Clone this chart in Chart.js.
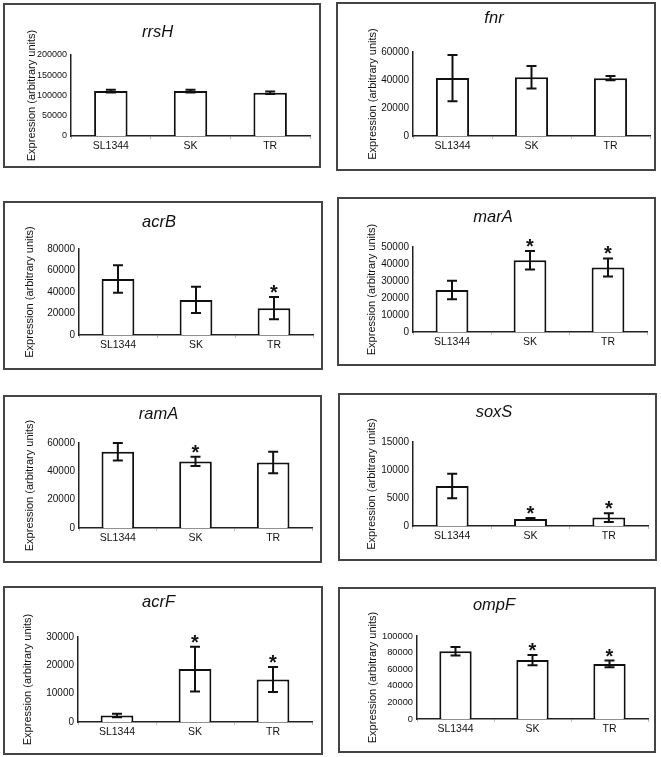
<!DOCTYPE html>
<html>
<head>
<meta charset="utf-8">
<script src="https://cdn.jsdelivr.net/npm/chart.js@4"></script>
<style>
  body { margin: 0; background: #fff; }
  #wrap { position: relative; width: 661px; height: 757px; }
  .panel { position: absolute; border: 2px solid #444; box-sizing: border-box; }
  .panel canvas { position: absolute; left: 0; top: 0; }
</style>
</head>
<body>
<div id="wrap"></div>
<script>
var strains = ["SL1344", "SK", "TR"];
var genes = ["rrsH", "fnr", "acrB", "marA", "ramA", "soxS", "acrF", "ompF"];

// mean expression, error and significance (1 = asterisk) per gene
var rrsH = [111000, 111000, 107000];
var rrsHErr = [3500, 3500, 3000];
var rrsHSig = [0, 0, 0];
var fnr = [41400, 42000, 41300];
var fnrErr = [16500, 8000, 1500];
var fnrSig = [0, 0, 0];
var acrB = [52000, 32600, 25000];
var acrBErr = [12800, 12200, 10300];
var acrBSig = [0, 0, 1];
var marA = [24700, 42200, 38000];
var marAErr = [5400, 5400, 5300];
var marASig = [0, 1, 1];
var ramA = [53800, 47000, 46200];
var ramAErr = [6200, 3300, 7600];
var ramASig = [0, 1, 0];
var soxS = [7150, 1250, 1500];
var soxSErr = [2200, 200, 770];
var soxSSig = [0, 1, 1];
var acrF = [2300, 18700, 15000];
var acrFErr = [600, 7900, 4400];
var acrFSig = [0, 1, 1];
var ompF = [81600, 71000, 66400];
var ompFErr = [5200, 6200, 4000];
var ompFSig = [0, 1, 1];

// y axis ranges
var axisMax = [200000, 60000, 80000, 50000, 60000, 15000, 30000, 100000];
var axisStep = [50000, 20000, 20000, 10000, 20000, 5000, 10000, 20000];

var values = [rrsH, fnr, acrB, marA, ramA, soxS, acrF, ompF];
var errors = [rrsHErr, fnrErr, acrBErr, marAErr, ramAErr, soxSErr, acrFErr, ompFErr];
var stars = [rrsHSig, fnrSig, acrBSig, marASig, ramASig, soxSSig, acrFSig, ompFSig];

// page layout: box [l,t,r,b], plot area [l,t,r,b], title centre y, axis title centre x
var panels = [
  { box: [4, 4, 320, 167], plot: [71, 55, 310, 136], titleY: 32, labelX: 32, tick: 9 },
  { box: [337, 3, 655, 170], plot: [413, 52, 650, 136], titleY: 18, labelX: 373, tick: 10 },
  { box: [4, 202, 322, 369], plot: [79, 249, 313, 335], titleY: 222, labelX: 30, tick: 10 },
  { box: [338, 198, 655, 365], plot: [413, 247, 647, 332], titleY: 217, labelX: 372, tick: 10 },
  { box: [4, 396, 321, 562], plot: [79, 443, 312, 528], titleY: 414, labelX: 30, tick: 10 },
  { box: [339, 394, 656, 560], plot: [413, 442, 648, 526], titleY: 412, labelX: 372, tick: 10 },
  { box: [4, 587, 322, 754], plot: [78, 637, 312, 722], titleY: 602, labelX: 28, tick: 10 },
  { box: [339, 588, 655, 752], plot: [417, 636, 648, 719], titleY: 605, labelX: 373, tick: 9.3 }
];

var FONT = "'Liberation Sans', Arial, sans-serif";
var titleSize = 16.5, titleLH = 20;
var axisTitleSize = 11, axisTitleLH = 13;

var errorBars = {
  id: "errorBars",
  afterDatasetsDraw: function (chart) {
    var ctx = chart.ctx;
    var ds = chart.data.datasets[0];
    var meta = chart.getDatasetMeta(0);
    var y = chart.scales.y;
    ctx.save();
    ctx.strokeStyle = "#111";
    ctx.fillStyle = "#111";
    ctx.lineWidth = 2;
    meta.data.forEach(function (bar, i) {
      var v = ds.data[i], e = ds.errors[i];
      var top = y.getPixelForValue(v + e);
      var bot = y.getPixelForValue(v - e);
      var x = bar.x;
      ctx.beginPath();
      ctx.moveTo(x, top); ctx.lineTo(x, bot);
      ctx.moveTo(x - 5, top); ctx.lineTo(x + 5, top);
      ctx.moveTo(x - 5, bot); ctx.lineTo(x + 5, bot);
      ctx.stroke();
      if (ds.stars[i]) {
        ctx.font = "bold 20px " + FONT;
        ctx.textAlign = "center";
        ctx.textBaseline = "alphabetic";
        ctx.fillText("*", x, top + 2);
      }
    });
    ctx.restore();
  }
};

var wrap = document.getElementById("wrap");

panels.forEach(function (p, k) {
  var div = document.createElement("div");
  div.className = "panel";
  div.style.left = (p.box[0] - 1) + "px";
  div.style.top = (p.box[1] - 1) + "px";
  div.style.width = (p.box[2] - p.box[0] + 2) + "px";
  div.style.height = (p.box[3] - p.box[1] + 2) + "px";
  var cv = document.createElement("canvas");
  var ox = p.box[0] + 1, oy = p.box[1] + 1;
  var w = p.box[2] - p.box[0] - 2, h = p.box[3] - p.box[1] - 2;
  cv.width = w; cv.height = h;
  cv.style.width = w + "px"; cv.style.height = h + "px";
  div.appendChild(cv);
  wrap.appendChild(div);

  var yWidth = p.plot[0] - ox;
  var xHeight = h - (p.plot[3] - oy);
  var titleTop = p.titleY - oy - titleLH / 2;
  var titleBottom = (p.plot[1] - oy) - titleTop - titleLH;

  new Chart(cv, {
    type: "bar",
    data: {
      labels: strains,
      datasets: [{
        data: values[k],
        errors: errors[k],
        stars: stars[k],
        backgroundColor: "#fff",
        borderColor: "#111",
        borderWidth: 2,
        barPercentage: 0.42,
        categoryPercentage: 1
      }]
    },
    options: {
      responsive: false,
      devicePixelRatio: 1,
      animation: false,
      layout: { padding: { left: 0, top: 0, bottom: 0, right: w - (p.plot[2] - ox) } },
      plugins: {
        legend: { display: false },
        tooltip: { enabled: false },
        title: {
          display: true,
          text: genes[k],
          color: "#111",
          font: { family: FONT, size: titleSize, style: "italic", weight: "normal", lineHeight: titleLH / titleSize },
          padding: { top: titleTop, bottom: titleBottom }
        }
      },
      scales: {
        x: {
          grid: { display: true, drawOnChartArea: false, drawTicks: true, tickLength: 3, color: "#bbb" },
          border: { display: true, color: "#222", width: 1.5 },
          ticks: { color: "#111", padding: 1, font: { family: FONT, size: 10.5 } },
          afterFit: function (s) { s.height = xHeight; }
        },
        y: {
          min: 0,
          max: axisMax[k],
          grid: { display: false, drawTicks: false },
          border: { display: true, color: "#222", width: 1.5 },
          ticks: {
            stepSize: axisStep[k],
            color: "#111",
            padding: 4,
            font: { family: FONT, size: p.tick },
            callback: function (v) { return String(v); }
          },
          title: {
            display: true,
            text: "Expression (arbitrary units)",
            color: "#111",
            font: { family: FONT, size: axisTitleSize, lineHeight: axisTitleLH / axisTitleSize },
            padding: { top: p.labelX - ox - axisTitleLH / 2, bottom: 0 }
          },
          afterFit: function (s) { s.width = yWidth; }
        }
      }
    },
    plugins: [errorBars]
  });
});
</script>
</body>
</html>
